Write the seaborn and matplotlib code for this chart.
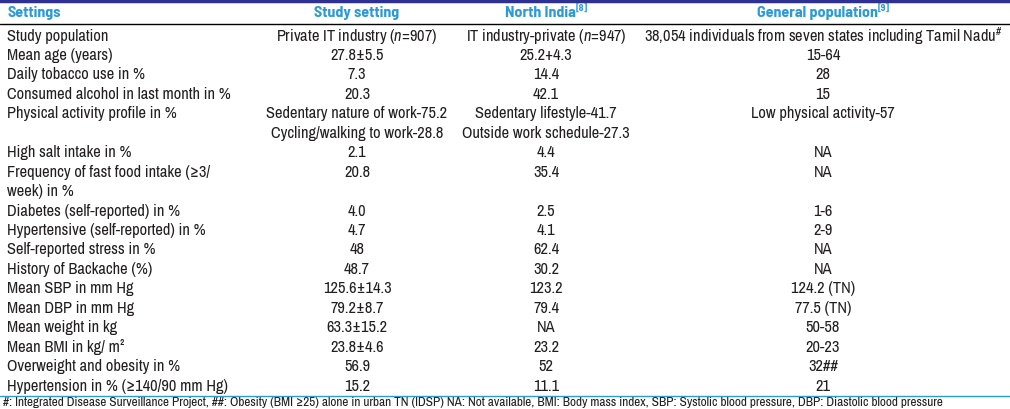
import matplotlib
matplotlib.use("Agg")
import matplotlib.pyplot as plt
import seaborn as sns

# table content
headers = ["Settings", "Study setting", "North India", "General population"]
header_refs = ["", "", "[8]", "[9]"]

settings = [
    "Study population",
    "Mean age (years)",
    "Daily tobacco use in %",
    "Consumed alcohol in last month in %",
    "Physical activity profile in %",
    "High salt intake in %",
    "Frequency of fast food intake (\u22653/\nweek) in %",
    "Diabetes (self-reported) in %",
    "Hypertensive (self-reported) in %",
    "Self-reported stress in %",
    "History of Backache (%)",
    "Mean SBP in mm Hg",
    "Mean DBP in mm Hg",
    "Mean weight in kg",
    "Mean BMI in kg/ m\u00b2",
    "Overweight and obesity in %",
    "Hypertension in % (\u2265140/90 mm Hg)",
]
study_setting = [
    "Private IT industry ($\\mathit{n}$=907)",
    "27.8\u00b15.5",
    "7.3",
    "20.3",
    "Sedentary nature of work-75.2\nCycling/walking to work-28.8",
    "2.1",
    "20.8",
    "4.0",
    "4.7",
    "48",
    "48.7",
    "125.6\u00b114.3",
    "79.2\u00b18.7",
    "63.3\u00b115.2",
    "23.8\u00b14.6",
    "56.9",
    "15.2",
]
north_india = [
    "IT industry-private ($\\mathit{n}$=947)",
    "25.2+4.3",
    "14.4",
    "42.1",
    "Sedentary lifestyle-41.7\nOutside work schedule-27.3",
    "4.4",
    "35.4",
    "2.5",
    "4.1",
    "62.4",
    "30.2",
    "123.2",
    "79.4",
    "NA",
    "23.2",
    "52",
    "11.1",
]
general_population = [
    "38,054 individuals from seven states including Tamil Nadu$^{\\#}$",
    "15-64",
    "28",
    "15",
    "Low physical activity-57",
    "NA",
    "NA",
    "1-6",
    "2-9",
    "NA",
    "NA",
    "124.2 (TN)",
    "77.5 (TN)",
    "50-58",
    "20-23",
    "32##",
    "21",
]
footnote = ("#: Integrated Disease Surveillance Project, ##: Obesity (BMI \u226525) alone in urban TN (IDSP) "
            "NA: Not available, BMI: Body mass index, SBP: Systolic blood pressure, DBP: Diastolic blood pressure")

sns.set_theme(style="white")
FONT = "Archivo Narrow"
HEAD = "Barlow Semi Condensed"
plt.rcParams["font.family"] = [FONT, "DejaVu Sans"]
plt.rcParams["mathtext.fontset"] = "custom"
plt.rcParams["mathtext.rm"] = FONT
plt.rcParams["mathtext.it"] = FONT + ":italic"
plt.rcParams["mathtext.bf"] = HEAD + ":bold"

fig = plt.figure(figsize=(10.1, 4.1), dpi=100)
ax = fig.add_axes([0, 0, 1, 1])
ax.set_xlim(0, 1010)
ax.set_ylim(410, 0)
ax.axis("off")

col_x = [7, 357, 546, 823]
blue = "#2b9ad6"
navy = "#2e3192"
fs = 11.8

# rules
ax.plot([0, 1010], [1.5, 1.5], color=navy, lw=2.5)
ax.plot([0, 1010], [25, 25], color="black", lw=1.0)
ax.plot([0, 1010], [397, 397], color=blue, lw=1.0)

# header (reference marks drawn as small superscripts after the text)
hfam = [HEAD, "Asap Condensed", FONT]
for i, h in enumerate(headers):
    ha = "left" if i == 0 else "center"
    x = col_x[i] - (6 if header_refs[i] else 0)
    t = ax.text(x, 13, h, ha=ha, va="center", fontsize=11.5,
                family=hfam, fontweight="bold", color=blue)
    if header_refs[i]:
        ax.annotate(header_refs[i], xy=(1, 1), xycoords=t, xytext=(0.5, 1),
                    textcoords="offset points", ha="left", va="top",
                    fontsize=7, family=hfam, fontweight="bold", color=blue)

# body
y0, dy = 36, 19.45
line = 0
for r in range(len(settings)):
    cells = [settings[r], study_setting[r], north_india[r], general_population[r]]
    nl = max(c.count("\n") + 1 for c in cells)
    for i, c in enumerate(cells):
        ha = "left" if i == 0 else "center"
        for k, part in enumerate(c.split("\n")):
            ax.text(col_x[i], y0 + (line + k) * dy, part, ha=ha, va="center",
                    fontsize=fs, color="#231f20")
    line += nl

ax.text(3, 403, footnote, ha="left", va="center", fontsize=9.5, color="#231f20")

fig.savefig("out.png", dpi=100)
